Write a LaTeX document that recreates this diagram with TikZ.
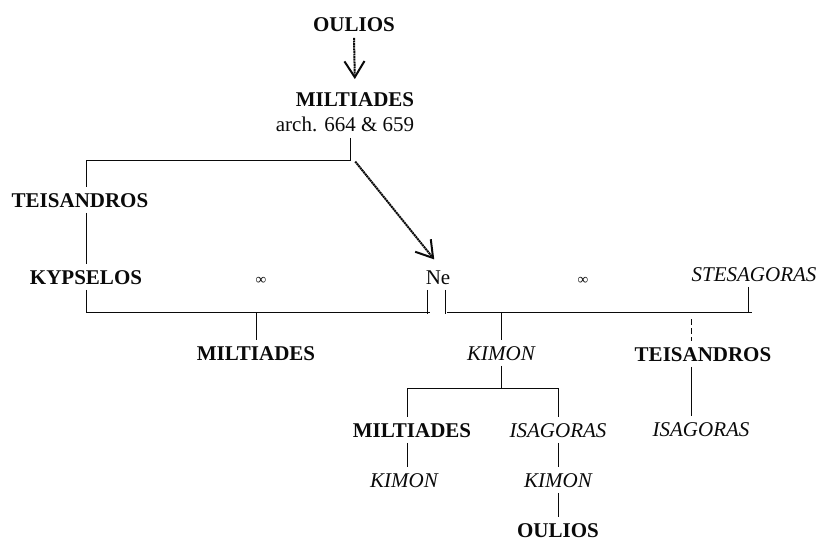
\documentclass[tikz,border=0pt]{standalone}
\usepackage{fontspec}
\setmainfont{Liberation Serif}
\usepackage{tikz}
\usetikzlibrary{arrows.meta,positioning,calc}
\definecolor{ink}{RGB}{10,10,10}
\newcommand{\namesize}{\fontsize{10.5}{12}\selectfont}
\tikzset{
  pname/.style={inner xsep=1pt,inner ysep=2.75pt,text height=7pt,text depth=0pt,text=ink,font=\namesize},
  bname/.style={pname,font=\namesize\bfseries},
  iname/.style={pname,font=\namesize\itshape},
  wed/.style={pname,text height=4pt,font=\fontsize{7.5}{9}\selectfont},
  link/.style={draw=ink,line width=0.5pt},
  gap/.style={link,dash pattern=on 3pt off 1.5pt},
  descent/.style={-{Straight Barb[length=8pt,width=10pt,line width=1pt]},draw=ink,line width=1pt,dash pattern=on 1pt off 0.3pt}
}

\begin{document}
\begin{tikzpicture}[x=0.5pt,y=-0.5pt]
  \useasboundingbox (0,0) rectangle (819,540);

  % first generations
  \node[bname] (oulA) at (354,25) {OULIOS};
  \node[bname] (milA) at (355,100) {MILTIADES};
  \node[pname] (arch) at (345,125) {arch. 664 \& 659};

  % marriage row
  \node[bname] (teiA) at (80,200) {TEISANDROS};
  \node[bname] (kyp) at (86,277) {KYPSELOS};
  \node[wed] (inf1) at (261,280) {∞};
  \node[pname] (ne) at (438,277) {Ne};
  \node[wed] (inf2) at (583,280) {∞};
  \node[iname] (stes) at (754,274) {STESAGORAS};

  % children
  \node[bname] (milB) at (256,353) {MILTIADES};
  \node[iname] (kimA) at (501,353) {KIMON};
  \node[bname] (teiB) at (703,354) {TEISANDROS};
  \node[bname] (milC) at (412,430) {MILTIADES};
  \node[iname] (isaA) at (558,430) {ISAGORAS};
  \node[iname] (isaB) at (701,429) {ISAGORAS};
  \node[iname] (kimB) at (404,480) {KIMON};
  \node[iname] (kimC) at (558,480) {KIMON};
  \node[bname] (oulB) at (558,530) {OULIOS};

  \coordinate (jA) at (350,160);
  \coordinate (lA) at (86,160);
  \coordinate (lB) at (86,312);
  \coordinate (hL) at (430,312);
  \coordinate (hR) at (447,312);
  \coordinate (rE) at (752,312);
  \coordinate (nbL) at (427,314);
  \coordinate (nbR) at (445,314);
  \coordinate (sV) at (748,313);
  \coordinate (bL) at (407,388);
  \coordinate (bR) at (558,388);
  \coordinate (tV) at (691,319);

  % descent arrows
  \draw[descent,shorten >=4pt] (oulA.south) -- (milA.north);
  \draw[descent,shorten <=1pt,shorten >=3pt] ([xshift=2pt]jA) -- (ne.north);

  % left branch
  \draw[link] (arch.south -| jA) -- (jA) -- (lA) -- (lA |- teiA.north);
  \draw[link] (lA |- teiA.south) -- (lA |- kyp.north);
  \draw[link] (lA |- kyp.south) -- (lB) -- (hL);
  \draw[link] (milB.north |- lB) -- (milB.north);

  % Ne and right branch
  \draw[link] (ne.south -| nbL) -- (nbL);
  \draw[link] (ne.south -| nbR) -- (nbR);
  \draw[link] (hR) -- (rE);
  \draw[link] (stes.south -| sV) -- (sV);
  \draw[link] (kimA.north |- hR) -- (kimA.north);
  \draw[gap] (tV) -- (tV |- teiB.north);
  \draw[link] (tV |- teiB.south) -- (tV |- isaB.north);

  % sons of Kimon
  \draw[link] (kimA.south) -- (kimA.south |- bL);
  \draw[link] (bL) -- (bR) -- (isaA.north);
  \draw[link] (bL) -- (bL |- milC.north);
  \draw[link] (bL |- milC.south) -- (bL |- kimB.north);
  \draw[link] (isaA.south) -- (kimC.north);
  \draw[link] (kimC.south) -- (oulB.north);
\end{tikzpicture}
\end{document}
